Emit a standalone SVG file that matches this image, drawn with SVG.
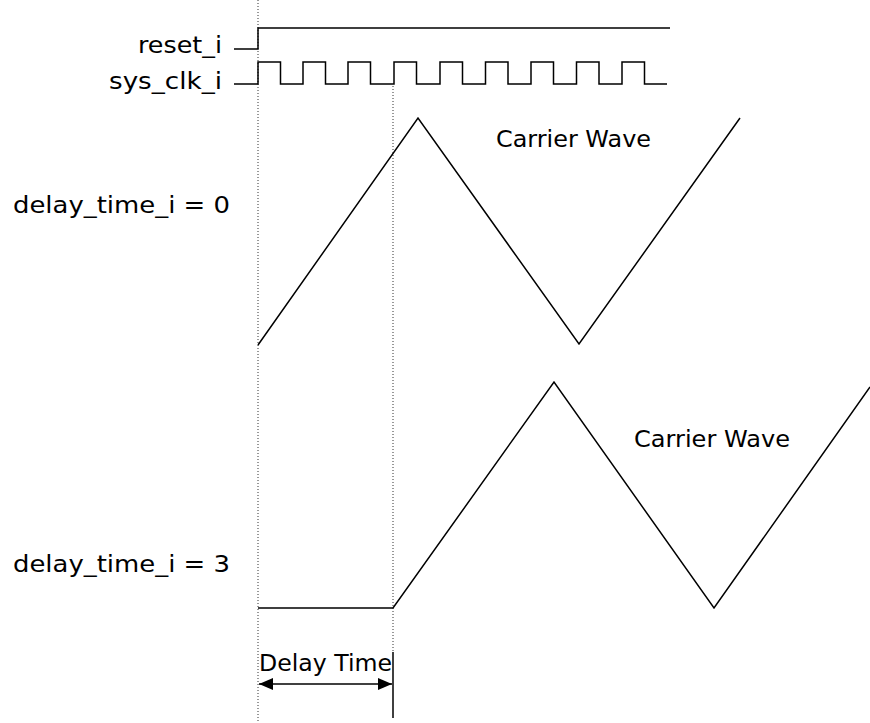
<svg xmlns="http://www.w3.org/2000/svg" width="870" height="723" viewBox="0 0 870 723">
<style>
text{font-family:"DejaVu Sans","Liberation Sans",sans-serif;font-size:23px;fill:#000}
.w{fill:none;stroke:#000;stroke-width:1.5}
.dot{fill:none;stroke:#333;stroke-width:1;stroke-dasharray:1 2}
</style>
<defs>
<marker id="ah" viewBox="0 0 14 12" refX="14" refY="6" markerWidth="14" markerHeight="12" markerUnits="userSpaceOnUse" orient="auto-start-reverse">
<path d="M0,0L14,6L0,12Z" fill="#000"/>
</marker>
</defs>
<g id="guides">
<line class="dot" x1="258" y1="0" x2="258" y2="723"/>
<line class="dot" x1="393" y1="86" x2="393" y2="652"/>
<line x1="393" y1="652" x2="393" y2="718" stroke="#000" stroke-width="1.5"/>
</g>
<g id="reset">
<text x="138" y="53" textLength="84" lengthAdjust="spacingAndGlyphs">reset_i</text>
<path class="w" d="M234,49H258V28H670"/>
</g>
<g id="clk">
<text x="109" y="89" textLength="113" lengthAdjust="spacingAndGlyphs">sys_clk_i</text>
<path class="w" d="M234,84H258V62H280.5V84H303V62H325.5V84H348V62H370.5V84H394V62H416.5V84H440V62H462.5V84H485.5V62H508V84H531V62H553.5V84H576.5V62H599V84H622V62H644.5V84H667"/>
</g>
<g id="wave0">
<text x="13" y="213" textLength="217" lengthAdjust="spacingAndGlyphs">delay_time_i = 0</text>
<path class="w" d="M258,345L418,118L579,344L740,118"/>
<text x="496" y="147" textLength="155" lengthAdjust="spacingAndGlyphs">Carrier Wave</text>
</g>
<g id="wave3">
<text x="13" y="572" textLength="217" lengthAdjust="spacingAndGlyphs">delay_time_i = 3</text>
<path class="w" d="M258,608H393L554,382L714,608L870,387"/>
<text x="634" y="447" textLength="156" lengthAdjust="spacingAndGlyphs">Carrier Wave</text>
</g>
<g id="connectors">
<line x1="259" y1="684" x2="392" y2="684" stroke="#000" stroke-width="1.5" marker-start="url(#ah)" marker-end="url(#ah)"/>
<text x="259" y="671" textLength="133" lengthAdjust="spacingAndGlyphs">Delay Time</text>
</g>
</svg>
